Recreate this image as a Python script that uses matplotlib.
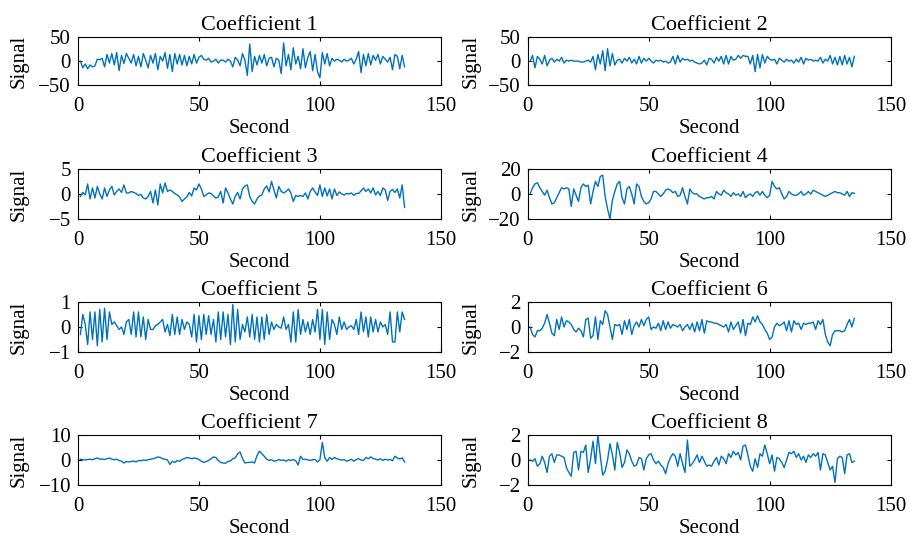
import numpy as np
import matplotlib
matplotlib.use("Agg")
from matplotlib import pyplot as plt

# coefficient signals, one sample per second
coef1 = [0, -14, -6, -16, -8, -12, -10, 4, 3, 6,
         -12, 14, -4, 16, -8, 18, -20, 12, -5, 16,
         6, -4, 14, -10, 10, -12, 16, 2, -14, 12,
         -4, 16, -18, 10, 0, 18, -15, 14, -22, 16,
         -6, 14, -8, 12, -10, 10, -6, 14, -4, 8,
         12, 4, 2, 6, -2, 0, 4, -4, 2, 2,
         -2, 4, 0, -12, 8, 2, -10, 16, 2, -30,
         36, -22, 10, -8, 12, -4, 14, -10, 6, 8,
         -12, 6, 2, -26, 38, -10, 14, -18, 28, -6,
         10, -16, 26, -14, 8, 20, -20, 14, -22, -35,
         18, -6, 16, -10, 6, 0, 4, 2, -2, 4,
         0, 2, 6, -6, 4, 20, -24, 14, -10, 16,
         -8, 12, 2, 14, -6, 10, 4, -2, 8, -18,
         14, 10, -16, 12, -12]
coef2 = [0, 12, -14, 10, 4, -6, 12, -10, 2, 6,
         -2, 4, 0, 8, -4, 2, 0, 2, 0, 0,
         0, -2, -2, 0, 2, -2, 10, -18, 14, -6,
         22, -20, 26, -10, 16, -8, 2, 4, -4, 6,
         0, 8, -4, 4, -6, 10, -4, 6, 0, 6,
         0, -4, 2, 0, 2, -2, 0, -4, -2, 10,
         -6, 12, -2, 6, 2, 4, 0, 2, -2, -4,
         -6, -4, 2, -8, 6, 4, -4, 8, 0, 10,
         -6, 12, -6, 10, 2, 4, 12, 6, 12, 10,
         10, -6, 12, -22, 14, -14, 14, -4, 10, 4,
         2, 4, -6, 6, 2, -2, 4, 0, 2, -4,
         4, -2, 8, -6, 6, 2, 4, 0, 2, 0,
         8, -4, 4, 0, 12, -6, 8, -8, 10, -8,
         12, -6, 8, -12, 10]
coef3 = [-0.5, 0.3, -0.2, 2, -1, 1.2, -0.8, 1.5, 0, -1,
         1.2, -0.5, 0.8, 1.5, -0.2, 0.5, 1, 0.3, 1.8, 0.2,
         0.2, 0.5, 0.3, 0.1, -0.3, -0.1, -0.8, -1, -0.5, 0.5,
         -1.8, 0.8, -2.2, 2, 0.2, 2.2, 0.5, 0.8, 0.5, 0.1,
         -0.2, -0.6, -1.5, -1, -0.6, 0.3, -0.4, 1.2, 0.8, 2,
         1, -0.5, -0.2, 0.2, 0.1, -0.4, -0.8, -0.6, 0.5, -1.8,
         1.2, 0.2, -1, -2, -0.5, 0.3, -1, 1, 1.6, 1.8,
         -0.5, -1.5, -2, -1, -0.4, -0.2, 1, 1.6, 0.4, 2.5,
         0.8, -0.8, 1.5, 0.5, 0.2, 0.5, 1, 0.2, -1.5, -0.3,
         -0.5, -0.3, -0.5, 0.2, -1, 0.5, 1.2, 0.4, -0.3, 1.8,
         -0.5, 1.2, -0.4, 1, -1, 1, -0.3, 0.4, 0, -0.2,
         0.1, 0, 0.2, -0.3, 0.1, 0.1, 0.6, 1.2, 0.5, 1,
         0.2, 1.2, -0.2, 0.5, -0.3, 1.2, 0.8, -1.3, 0.5, 0.9,
         0.3, 1, -0.8, 1.8, -2.7]
coef4 = [0, 5, 8, 9, 5, 2, -1, 3, -3, -8,
         -7, -3, 1, 5, 4, 5, 4, -10, 4, -1,
         -6, 5, 8, 6, 7, -8, 2, 10, 6, 14,
         15, -2, -12, -20, -5, 2, 8, 10, -3, -8,
         4, 6, 0, -8, 8, 6, -2, -6, -8, -7,
         -4, 2, 2, 0, -2, 0, 3, 4, 3, 1,
         2, -2, -1, 5, -2, -8, 4, 1, 0, 0,
         -2, -3, -4, -3, -3, -2, -4, 2, 0, -1,
         3, 1, 0, -2, 1, -1, 0, -2, 2, -3,
         -1, 0, -2, 1, 2, -1, 2, -1, -3, -1,
         10, 6, 4, 5, 0, -4, -2, 2, 0, -1,
         -1, 0, 2, -1, 0, 2, 0, 3, 2, 1,
         0, -1, -2, -1, 0, 1, 2, 1, 1, 0,
         -1, 2, -2, 1, 0.5]
coef5 = [-0.3, 0.5, 0.1, -0.7, 0.6, -0.5, 0.6, -0.75, 0.7, -0.6,
         0.75, -0.5, 0.6, 0.1, 0.2, 0.05, -0.1, 0, -0.3, 0.2,
         0.3, -0.3, 0.6, -0.4, 0.6, -0.4, 0.4, -0.5, 0.3, -0.1,
         -0.1, 0.05, 0.1, 0.2, 0.3, -0.2, 0.1, -0.35, 0.5, -0.3,
         0.4, -0.3, 0.3, -0.1, 0.2, 0.1, -0.4, 0.5, -0.6, 0.45,
         -0.5, 0.5, -0.3, 0.45, -0.3, 0.3, -0.6, 0.6, -0.5, 0.6,
         -0.4, 0.5, -0.7, 0.9, -0.6, 0.7, -0.5, 0.1, -0.2, 0.4,
         -0.4, 0.5, -0.5, 0.4, -0.6, 0.4, -0.5, 0.5, -0.3, 0.2,
         -0.1, 0.1, 0, -0.05, 0.4, -0.1, 0.1, -0.6, 0.6, -0.6,
         0.7, -0.3, 0.3, -0.2, 0.2, -0.3, 0.3, -0.2, 0.7, -0.5,
         0.7, -0.7, 0.6, -0.5, 0.3, 0.1, -0.3, 0.4, -0.1, 0.2,
         -0.1, 0, 0.05, -0.1, 0.3, -0.3, 0.6, -0.2, 0.4, -0.4,
         0.4, -0.2, 0.3, -0.2, 0.2, 0, 0.1, -0.3, 0.6, -0.6,
         -0.6, 0.6, -0.2, 0.6, 0.3]
coef6 = [0, -0.6, -0.8, -0.3, -0.3, -0.1, 0.3, 1.0, 0.3, -0.5,
         -0.7, 0.6, -0.2, 0.8, 0, 0.5, 0.4, 0.2, -0.2, -0.4,
         -0.1, -0.3, -0.8, 0.6, 0.7, -0.9, -0.7, 0.8, -1.0, 0.5,
         0.2, 1.3, 1.0, 0, -1.0, 0.2, 0.1, 0.2, -0.6, 0.5,
         -0.2, 0.6, -0.6, 0.1, 0.4, 0.0, 0.6, 0.1, 0.6, 0.8,
         -0.2, 0, -0.1, 0.3, -0.3, 0.5, -0.2, 0.4, -0.1, 0.2,
         0.1, 0, 0.2, -0.3, 0, 0.2, -0.2, 0.3, -0.4, 0.4,
         -0.3, 0.6, -0.5, 0.5, 0.4, 0.4, 0.3, 0.3, 0.2, 0.1,
         0, 0.2, -0.4, 0.4, -0.2, 0.1, 0.4, -0.5, 0.6, -0.7,
         0.3, 0.2, 0.8, 0.4, 0.9, 0.4, 0.2, -0.2, -0.5, -1.0,
         -0.8, 0, 0.3, 0.1, 0.2, 0.4, -0.3, 0.5, -0.4, 0.5,
         0.2, 0.3, -0.2, 0.3, 0.2, 0.3, 0.3, 0.4, -0.2, 0.5,
         0.2, 0.6, -0.6, -1.2, -1.5, -0.6, -0.3, -0.3, -0.3, -0.4,
         -0.3, 0.2, 0.6, 0, 0.7]
coef7 = [0.3, 0.1, 0, 0.2, 0.3, 0.1, 0.5, 0.8, 0.3, 0.4,
         0.2, 0.5, 0.8, 0.3, 0.1, 0.3, -0.2, -0.5, -1.2, -0.6,
         -0.8, -0.6, -0.4, -0.8, -0.2, -0.3, 0, -0.2, 0.1, 0.3,
         0.5, 0.8, 1.2, 1.0, 0.5, 0.3, 0, -1.8, -0.5, -1.0,
         -0.3, -0.5, 0.2, 0.5, 1.0, 0.8, 0.5, 0.8, 0.6, 0.2,
         -0.5, -1.0, -0.6, -0.2, 0.5, 1.2, 1.0, -0.2, -1.0, -1.2,
         -1.3, -0.6, -0.4, 0.5, 0.8, 2.5, 3.2, 0.5, -1.2, -1.0,
         -1.0, -0.8, -1.2, 1.8, 3.5, 2.5, 1.5, 0.3, -0.2, 0.1,
         -0.5, -0.3, 0.2, -0.2, 0, -0.5, 0.1, -0.2, 0.2, -0.3,
         -2.0, 1.5, 0.2, 0.3, 0, -0.2, 0.1, 0.2, -0.8, 0.1,
         7.0, 1.0, -0.5, 1.0, 0.2, 1.0, 0.5, 0.2, -0.1, 0.2,
         -0.5, -0.2, 0.3, -0.5, 0.2, 0.5, 0.0, -0.2, 1.0, 0.5,
         1.2, 0.6, 0.3, 0, 0.5, -0.2, 0.3, 0, 0.2, -0.3,
         1.5, 0.8, 0.4, 0.8, -0.8]
coef8 = [0, -0.1, 0.1, -0.5, -0.3, 0.3, -0.2, -1.0, 0.3, 0.5,
         -0.2, 0.4, 0.4, 0.3, 0.2, -0.6, -1.0, -1.3, 0.6, 0.7,
         -0.8, 0.7, 0.6, 1.2, -1.0, 0.1, 1.5, -0.3, 2.0, 0.3,
         -1.2, -0.9, 0, 1.3, 0.4, -0.8, 1.4, 0.6, -0.6, -0.2,
         0.8, 0.5, -0.1, -0.5, -0.4, 0.2, 0.1, -0.8, 0.1, 0.4,
         0.5, 0, -0.3, -0.1, -0.4, -0.6, -1.1, -0.3, 0.2, 0.5,
         0.3, -0.5, 0.5, -0.3, -1.0, 1.6, -0.5, -0.3, 0, 0.4,
         -0.2, 0.3, -0.1, -0.5, -0.4, -0.5, -0.1, 0.2, -0.4, 0.3,
         0.1, -0.3, 0.5, 0.2, 0.7, 0.4, 0.6, 0, 1.1, 1.2,
         0.4, -0.5, -0.9, 0.1, -0.6, 0.5, 0.3, 1.2, 0.5, -0.3,
         0.4, -0.9, 0.2, 0.1, -0.2, -0.6, 0, 0.6, 0.5, 0.7,
         0.2, 0.5, 0.0, 0.3, -0.2, 0.4, 0.2, 0.5, 0.3, 0.6,
         -0.8, 0.5, 0.4, -0.2, -0.8, -0.5, -1.8, 0.1, 0.3, 0.2,
         -1.1, 0.4, 0.5, -0.2, -0.1]

signals = [coef1, coef2, coef3, coef4, coef5, coef6, coef7, coef8]
titles = ["Coefficient %d" % (i + 1) for i in range(8)]
ylims = [50, 50, 5, 20, 1, 2, 10, 2]

plt.rcParams['font.family'] = ['Liberation Serif', 'DejaVu Serif']
fs = 15

fig = plt.figure(figsize=(9.13, 5.42), dpi=100)

lefts = [0.0854, 0.578]
width = 0.3975
bottoms = [0.8432, 0.596, 0.3506, 0.1052]
heights = [0.088, 0.0923, 0.0923, 0.0923]
ylab_x = [-0.136, -0.129]

for i, sig in enumerate(signals):
    row, col = divmod(i, 2)
    ax = fig.add_axes([lefts[col], bottoms[row], width, heights[row]])
    x = np.arange(1, len(sig) + 1)
    ax.plot(x, sig, color='#0072BD', linewidth=1.0)
    lim = ylims[i]
    ax.set_xlim(0, 150)
    ax.set_ylim(-lim, lim)
    ax.set_xticks([0, 50, 100, 150])
    ax.set_yticks([-lim, 0, lim])
    ax.tick_params(axis='x', pad=9)
    ax.tick_params(axis='y', pad=5)
    ax.tick_params(direction='in', top=True, right=True, length=3,
                   labelsize=fs, width=0.8)
    for s in ax.spines.values():
        s.set_linewidth(0.8)
    ax.set_title(titles[i], fontsize=16, pad=5)
    ax.set_xlabel("Second", fontsize=fs, labelpad=2)
    ax.set_ylabel("Signal", fontsize=fs)
    ax.yaxis.set_label_coords(ylab_x[col], 0.5)

fig.savefig("out.png", dpi=100)
